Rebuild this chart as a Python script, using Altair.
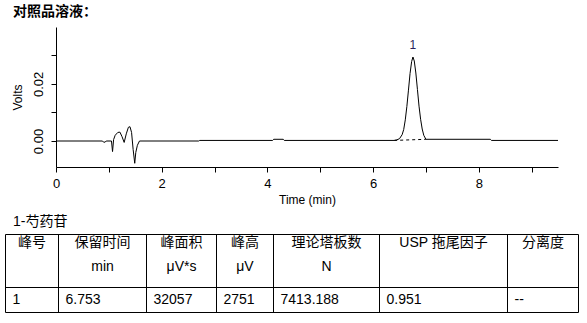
import altair as alt
import pandas as pd

# ---------------- data ----------------
title_text = "对照品溶液："
caption_text = "1-芍药苷"

# chromatogram trace (time in min, signal in Volts)
trace_time = [0.00, 0.88, 0.90, 0.93, 0.95, 1.05, 1.07, 1.09, 1.12, 1.17, 1.21, 1.25, 1.29,
              1.33, 1.37, 1.40, 1.43, 1.46, 1.49, 1.51, 1.54, 1.58, 2.70, 2.72, 4.10, 4.12,
              4.30, 4.32, 6.40, 6.45, 6.50, 6.55, 6.58, 6.61, 6.64, 6.67, 6.70, 6.73, 6.755,
              6.78, 6.81, 6.84, 6.87, 6.90, 6.93, 6.96, 7.00, 8.22, 8.24, 9.50]
trace_volts = [0.0000, 0.0000, -0.0004, -0.0004, 0.0000, 0.0000, -0.0037, 0.0005, 0.0020,
               0.0030, 0.0031, 0.0015, -0.0005, 0.0025, 0.0048, 0.0050, 0.0030, -0.0030,
               -0.0078, -0.0040, -0.0015, 0.0000, 0.0000, 0.0002, 0.0002, 0.0006, 0.0006,
               0.0002, 0.0002, 0.0004, 0.0008, 0.0022, 0.0040, 0.0074, 0.0121, 0.0178,
               0.0236, 0.0278, 0.0294, 0.0280, 0.0238, 0.0180, 0.0122, 0.0076, 0.0042,
               0.0020, 0.0006, 0.0006, 0.0002, 0.0002]

# integration baseline under the peak (dashed)
base_time = [6.40, 7.00]
base_volts = [0.0002, 0.0006]

# peak label
peak_names = ["1"]
peak_time = [6.755]
peak_volts = [0.0294]

# results table
header_line1 = ["峰号", "保留时间", "峰面积", "峰高", "理论塔板数", "USP 拖尾因子", "分离度"]
header_line2 = ["", "min", "μV*s", "μV", "N", "", ""]
row_values = ["1", "6.753", "32057", "2751", "7413.188", "0.951", "--"]

# ---------------- layout (pixels) ----------------
W, H = 587, 323
PL, PT = 56, 27
PW, PH = 502, 140
col_edges = [5.5, 58.5, 146.5, 216.5, 273.5, 379.5, 507.5, 578.5]
row_lines = [234.5, 287.5, 312.5]
y_head1, y_head2, y_row, y_caption = 247, 270.5, 304.3, 226
x_caption = 13
cell_pad = 7

FONT = "Liberation Sans, Arial, Noto Sans CJK SC"

# ---------------- chromatogram ----------------
trace = pd.DataFrame({"t": trace_time, "v": trace_volts})
base = pd.DataFrame({"t": base_time, "v": base_volts})
peaks = pd.DataFrame({"name": peak_names, "t": peak_time, "v": peak_volts})

xs = alt.Scale(domain=[0, 9.5], nice=False, zero=False)
ys = alt.Scale(domain=[-0.0091, 0.0399], nice=False, zero=False)

x_axis = alt.Axis(values=list(range(0, 10)),
                  labelExpr="datum.value % 2 == 0 ? format(datum.value, 'd') : ''",
                  tickSize=5, labelPadding=5, titlePadding=4, grid=False,
                  labelFontSize=13, titleFontSize=12, titleFontWeight="normal",
                  labelFlush=False)
y_axis = alt.Axis(values=[0, 0.01, 0.02, 0.03],
                  labelExpr="(abs(datum.value) < 1e-9 || abs(datum.value - 0.02) < 1e-9) ? format(datum.value, '.2f') : ''",
                  tickSize=5, labelAngle=270, labelAlign="center", labelBaseline="bottom",
                  labelPadding=6, titlePadding=8, grid=False,
                  labelFontSize=13, titleFontSize=12, titleFontWeight="normal")


def xenc():
    return alt.X("t:Q", scale=xs, title="Time (min)", axis=x_axis)


def yenc():
    return alt.Y("v:Q", scale=ys, title="Volts", axis=y_axis)


line = alt.Chart(trace).mark_line(color="black", strokeWidth=1).encode(
    x=xenc(), y=yenc(), order="t:Q")

dash = alt.Chart(base).mark_line(color="black", strokeWidth=1, strokeDash=[3, 3]).encode(
    x=xenc(), y=yenc())

label = alt.Chart(peaks).mark_text(fontSize=12, font=FONT, color="#2a1f5c",
                                    baseline="middle", dy=-12).encode(
    x=xenc(), y=yenc(), text="name:N")

chrom = alt.layer(line, dash, label)

# ---------------- table ----------------
px = alt.Scale(domain=[0, W], range=[-PL, W - PL], nice=False, zero=False)
py = alt.Scale(domain=[0, H], range=[-PT, H - PT], nice=False, zero=False)

hr_df = pd.DataFrame({"x": [col_edges[0]] * len(row_lines),
                      "x2": [col_edges[-1]] * len(row_lines),
                      "y": row_lines})
vr_df = pd.DataFrame({"x": col_edges, "y": [row_lines[0]] * len(col_edges),
                      "y2": [row_lines[-1]] * len(col_edges)})

centers = [(col_edges[i] + col_edges[i + 1]) / 2 for i in range(len(header_line1))]
lefts = [col_edges[i] + cell_pad for i in range(len(row_values))]

h1_df = pd.DataFrame({"x": centers, "y": [y_head1] * len(centers), "text": header_line1})
h2_df = pd.DataFrame({"x": centers, "y": [y_head2] * len(centers), "text": header_line2})
rv_df = pd.DataFrame({"x": lefts, "y": [y_row] * len(lefts), "text": row_values})
cap_df = pd.DataFrame({"x": [x_caption], "y": [y_caption], "text": [caption_text]})

hrules = alt.Chart(hr_df).mark_rule(color="black", strokeWidth=1).encode(
    x=alt.X("x:Q", scale=px, axis=None), x2="x2:Q",
    y=alt.Y("y:Q", scale=py, axis=None))
vrules = alt.Chart(vr_df).mark_rule(color="black", strokeWidth=1).encode(
    x=alt.X("x:Q", scale=px, axis=None),
    y=alt.Y("y:Q", scale=py, axis=None), y2="y2:Q")


def text_layer(df, align):
    return alt.Chart(df).mark_text(font=FONT, fontSize=14, color="black",
                                   align=align, baseline="alphabetic").encode(
        x=alt.X("x:Q", scale=px, axis=None),
        y=alt.Y("y:Q", scale=py, axis=None),
        text="text:N")


table = alt.layer(hrules, vrules,
                  text_layer(h1_df, "center"),
                  text_layer(h2_df, "center"),
                  text_layer(rv_df, "left"),
                  text_layer(cap_df, "left"))

chart = alt.layer(chrom, table).resolve_scale(
    x="independent", y="independent"
).properties(
    width=PW, height=PH,
    background="white",
    padding={"left": PL, "top": PT, "right": W - PL - PW, "bottom": H - PT - PH},
    autosize=alt.AutoSizeParams(type="none"),
    title=alt.TitleParams(title_text, anchor="start", frame="group", dx=-43, offset=8,
                          fontSize=14, fontWeight="bold", font=FONT, color="black"),
).configure_view(stroke=None, strokeWidth=0).configure_axis(
    domainColor="black", tickColor="black", labelColor="black", titleColor="black",
    labelFont=FONT, titleFont=FONT, titleFontWeight="normal", domainWidth=1, tickWidth=1,
)

chart.save("out.html", embed_options={"renderer": "svg", "actions": False})
